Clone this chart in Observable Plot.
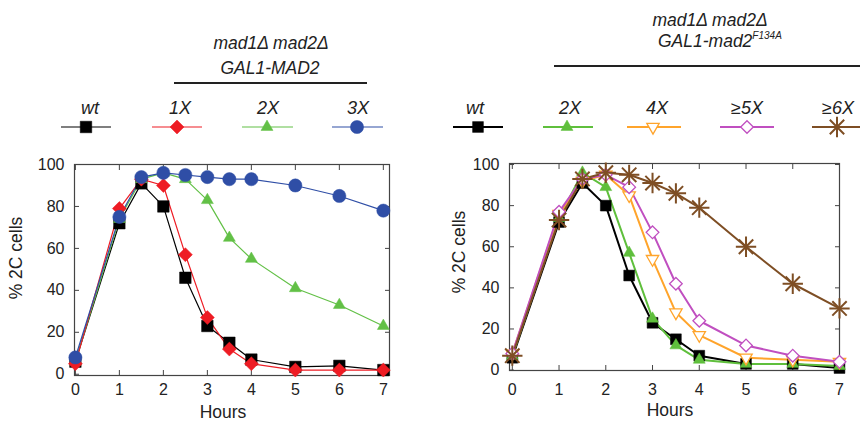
<!DOCTYPE html>
<html><head><meta charset="utf-8">
<script src="https://cdn.jsdelivr.net/npm/d3@7"></script>
<script src="https://cdn.jsdelivr.net/npm/@observablehq/plot@0.6"></script>
<style>
body{margin:0;background:#fff;}
#wrap{position:relative;width:860px;height:423px;overflow:hidden;font-family:"Liberation Sans",Arial,sans-serif;}
#wrap > div, #wrap > svg{position:absolute;top:0;}
</style></head><body><div id="wrap"></div>
<script>
// ---- data ----
const hours = [0, 1, 1.5, 2, 2.5, 3, 3.5, 4, 5, 6, 7];
const xTicks = [0, 1, 2, 3, 4, 5, 6, 7];
const yTicks = [0, 20, 40, 60, 80, 100];

const leftSeries = ["wt", "1X", "2X", "3X"];
const leftWt = [6, 72, 91, 80, 46, 23, 15, 7, 3.5, 4, 2];
const left1X = [5, 79, 93, 90, 57, 27, 12, 5, 2, 2, 2];
const left2X = [6, 74, 93, 96, 93, 83, 65, 55, 41, 33, 23];
const left3X = [8, 75, 94, 96, 95, 94, 93, 93, 90, 85, 78];

const rightSeries = ["wt", "2X", "4X", "≥5X", "≥6X"];
const rightWt = [6, 72, 91, 80, 46, 23, 15, 7, 3, 3, 1];
const right2X = [7, 74, 96, 89, 57, 25, 12, 5, 3, 3, 2];
const right4X = [8, 76, 92, 95, 85, 54, 28, 17, 6, 5, 4];
const right5X = [8, 77, 93, 95, 89, 67, 42, 24, 12, 7, 4];
const right6X = [7, 73, 93, 96, 95, 91, 86, 79, 60, 42, 30];

const leftTitle = ["mad1Δ mad2Δ", "GAL1-MAD2"];
const rightTitle = ["mad1Δ mad2Δ", "GAL1-mad2", "F134A"];
const xLabel = "Hours";
const yLabel = "% 2C cells";

// ---- styles ----
const leftStyle = {
  "wt": {color: "#000000", symbol: "square", r: 6.5, fill: "#000000"},
  "1X": {color: "#ee1c24", symbol: "diamond2", r: 6.3, fill: "#ee1c24"},
  "2X": {color: "#62c046", symbol: "triangle2", r: 5.7, fill: "#62c046"},
  "3X": {color: "#2f4ea6", symbol: "circle", r: 6.6, fill: "#2f4ea6"}
};
const rightStyle = {
  "wt": {color: "#000000", symbol: "square", r: 6.1, fill: "#000000"},
  "2X": {color: "#5fbf3c", symbol: "triangle2", r: 5.7, fill: "#5fbf3c"},
  "4X": {color: "#ffa42b", symbol: "triangle2", r: 5.9, fill: "#ffffff", rotate: 180},
  "≥5X": {color: "#c04fc0", symbol: "diamond2", r: 5.7, fill: "#ffffff"},
  "≥6X": {color: "#7e4e24", symbol: "star8", r: 6.6, fill: "none"}
};

function rowsOf(values) { return hours.map((h, i) => ({hour: h, value: values[i]})); }
const leftData = {"wt": rowsOf(leftWt), "1X": rowsOf(left1X), "2X": rowsOf(left2X), "3X": rowsOf(left3X)};
const rightData = {"wt": rowsOf(rightWt), "2X": rowsOf(right2X), "4X": rowsOf(right4X), "≥5X": rowsOf(right5X), "≥6X": rowsOf(right6X)};

function dotMarks(rows, s) {
  if (s.symbol === "star8") {
    return [0, 45].map(a => Plot.dot(rows, {x: "hour", y: "value", symbol: "times", r: s.r,
      stroke: s.color, strokeWidth: 2, rotate: a}));
  }
  return [Plot.dot(rows, {x: "hour", y: "value", symbol: s.symbol, r: s.r,
    fill: s.fill, stroke: s.color,
    strokeWidth: s.fill === "#ffffff" ? 1.3 : 0.5,
    rotate: s.rotate || 0})];
}

function panel(cfg) {
  const marks = [
    Plot.frame({stroke: "#444", strokeWidth: 1.2}),
    Plot.axisX(xTicks, {anchor: "bottom", tickSize: -5, tickFormat: () => "", label: null, stroke: "#444"}),
    Plot.axisX(xTicks, {anchor: "top", tickSize: -5, tickFormat: () => "", label: null, stroke: "#444"}),
    Plot.axisY(yTicks, {anchor: "left", tickSize: -5, tickFormat: () => "", label: null, stroke: "#444"}),
    Plot.axisY(yTicks, {anchor: "right", tickSize: -5, tickFormat: () => "", label: null, stroke: "#444"}),
    Plot.axisX(xTicks, {anchor: "bottom", tickSize: 0, tickPadding: cfg.xPad, label: null, fontSize: 16}),
    Plot.axisY(yTicks, {anchor: "left", tickSize: 0, tickPadding: cfg.yPad, label: null, fontSize: 16})
  ];
  for (const name of cfg.order) {
    const s = cfg.style[name];
    marks.push(Plot.line(cfg.data[name], {x: "hour", y: "value", stroke: s.color, strokeWidth: cfg.lw}));
  }
  for (const name of cfg.order) {
    marks.push(...dotMarks(cfg.data[name], cfg.style[name]));
  }
  return Plot.plot({
    width: cfg.width, height: 423,
    marginLeft: cfg.ml, marginRight: cfg.mr, marginTop: cfg.mt, marginBottom: cfg.mb,
    x: {domain: cfg.xDomain},
    y: {domain: cfg.yDomain},
    style: {fontFamily: '"Liberation Sans", Arial, sans-serif', color: "#222", background: "transparent", overflow: "visible"},
    marks
  });
}

const wrap = document.getElementById("wrap");

const leftPlot = panel({
  width: 430, ml: 74, mr: 41, mt: 164, mb: 48,
  xDomain: [-0.02, 7.14], yDomain: [-0.6, 100],
  order: ["wt", "2X", "1X", "3X"], style: leftStyle, data: leftData, lw: 1.2, xPad: 8, yPad: 10
});
leftPlot.style.left = "0px";
wrap.appendChild(leftPlot);

const rightPlot = panel({
  width: 430, ml: 79, mr: 21, mt: 163, mb: 53,
  xDomain: [-0.06, 7], yDomain: [-0.2, 100.5],
  order: ["wt", "2X", "4X", "≥5X", "≥6X"], style: rightStyle, data: rightData, lw: 2, xPad: 13, yPad: 10
});
rightPlot.style.left = "430px";
wrap.appendChild(rightPlot);

// ---- overlay: titles, legends, axis labels ----
const svg = d3.select(wrap).append("svg")
  .attr("width", 860).attr("height", 423)
  .style("left", "0px").style("pointer-events", "none")
  .style("font-family", '"Liberation Sans", Arial, sans-serif');

const ink = "#222";
function symPath(name, r) {
  const map = {square: d3.symbolSquare, diamond2: d3.symbolDiamond2, triangle2: d3.symbolTriangle2, circle: d3.symbolCircle, times: d3.symbolTimes};
  return d3.symbol(map[name], Math.PI * r * r)();
}
function legend(series, style, pos, lw) {
  series.forEach((name, i) => {
    const p = pos[i], s = style[name];
    svg.append("text").attr("x", p.label).attr("y", 114).attr("text-anchor", "middle")
      .attr("font-size", 18).attr("font-style", "italic").attr("fill", ink).text(name);
    svg.append("line").attr("x1", p.x1).attr("x2", p.x2).attr("y1", 127).attr("y2", 127)
      .attr("stroke", s.color).attr("stroke-width", lw);
    if (s.symbol === "star8") {
      [0, 45].forEach(a => svg.append("path").attr("d", symPath("times", s.r))
        .attr("transform", `translate(${p.c},127) rotate(${a})`)
        .attr("fill", "none").attr("stroke", s.color).attr("stroke-width", 2));
    } else {
      svg.append("path").attr("d", symPath(s.symbol, s.r))
        .attr("transform", `translate(${p.c},127) rotate(${s.rotate || 0})`)
        .attr("fill", s.fill).attr("stroke", s.color)
        .attr("stroke-width", s.fill === "#ffffff" ? 1.3 : 0.5);
    }
  });
}
legend(leftSeries, leftStyle, [
  {label: 90, x1: 61, x2: 111, c: 86},
  {label: 180, x1: 152, x2: 202, c: 177},
  {label: 268, x1: 242, x2: 293, c: 267},
  {label: 358, x1: 332, x2: 383, c: 357}
], 1.2);
legend(rightSeries, rightStyle, [
  {label: 475, x1: 453, x2: 503, c: 478},
  {label: 570, x1: 543, x2: 593, c: 567},
  {label: 657, x1: 627, x2: 681, c: 653},
  {label: 747, x1: 720, x2: 774, c: 747},
  {label: 838, x1: 812, x2: 862, c: 837}
], 2);

// titles
svg.append("text").attr("x", 271).attr("y", 49).attr("text-anchor", "middle").attr("font-size", 17.5)
  .attr("font-style", "italic").attr("fill", ink).text(leftTitle[0]);
svg.append("text").attr("x", 270).attr("y", 74).attr("text-anchor", "middle").attr("font-size", 17.5)
  .attr("font-style", "italic").attr("fill", ink).text(leftTitle[1]);
svg.append("line").attr("x1", 174).attr("x2", 367).attr("y1", 83).attr("y2", 83).attr("stroke", ink).attr("stroke-width", 2);

svg.append("text").attr("x", 710).attr("y", 26).attr("text-anchor", "middle").attr("font-size", 17.5)
  .attr("font-style", "italic").attr("fill", ink).text(rightTitle[0]);
const t2 = svg.append("text").attr("x", 658).attr("y", 47).attr("font-size", 17.5)
  .attr("font-style", "italic").attr("fill", ink);
t2.append("tspan").text(rightTitle[1]);
t2.append("tspan").attr("dy", -8).attr("font-size", 10).text(rightTitle[2]);
svg.append("line").attr("x1", 554).attr("x2", 862).attr("y1", 66).attr("y2", 66).attr("stroke", ink).attr("stroke-width", 2);

// axis labels
svg.append("text").attr("x", 223).attr("y", 418).attr("text-anchor", "middle").attr("font-size", 17.5).attr("fill", ink).text(xLabel);
svg.append("text").attr("x", 670).attr("y", 416).attr("text-anchor", "middle").attr("font-size", 17.5).attr("fill", ink).text(xLabel);
svg.append("text").attr("transform", "translate(22,258) rotate(-90)").attr("text-anchor", "middle").attr("font-size", 17.5).attr("fill", ink).text(yLabel);
svg.append("text").attr("transform", "translate(465,252) rotate(-90)").attr("text-anchor", "middle").attr("font-size", 17.5).attr("fill", ink).text(yLabel);
</script>
</body></html>
